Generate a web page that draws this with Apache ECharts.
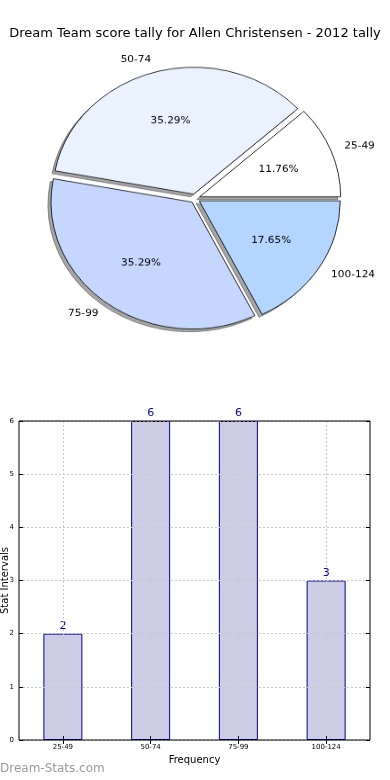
<!DOCTYPE html>
<html>
<head>
<meta charset="utf-8">
<script src="https://cdn.jsdelivr.net/npm/echarts@6/dist/echarts.min.js"></script>
<style>
  html, body { margin: 0; padding: 0; background: #fff; }
  #main { position: absolute; left: 0; top: 0; width: 390px; height: 780px; }
  #pie { position: absolute; left: 0; top: 0; width: 390px; height: 400px; transform: scaleY(0.9); transform-origin: 0 0; }
</style>
</head>
<body>
<div id="main"></div>
<div id="pie"></div>
<script>
const titleText = 'Dream Team score tally for Allen Christensen - 2012 tally';
const categories = ['25-49', '50-74', '75-99', '100-124'];
const counts = [2, 6, 6, 3];
const pieColors = ['#ffffff', '#eaf2ff', '#c5d7ff', '#b3d5ff'];
const yTicks = [0, 1, 2, 3, 4, 5, 6];
const xAxisName = 'Frequency';
const yAxisName = 'Stat Intervals';
const watermark = 'Dream-Stats.com';

const FONT = 'DejaVu Sans';
const total = counts.reduce((a, b) => a + b, 0);

// ---- Bar chart + title (full page) ----
const main = echarts.init(document.getElementById('main'));
const gridLine = { color: '#c8c8c8', type: [2, 2], width: 1 };
main.setOption({
  animation: false,
  textStyle: { fontFamily: FONT },
  title: {
    text: titleText,
    left: 'center',
    top: 22,
    textStyle: { fontSize: 13, fontWeight: 'normal', color: '#000', fontFamily: FONT }
  },
  graphic: [{
    type: 'text', left: 0, top: 763,
    style: { text: watermark, fill: '#9a9a9a', font: '12px "DejaVu Sans"' }
  }],
  grid: {
    left: 19, right: 20, top: 421, bottom: 40,
    containLabel: false, outerBoundsMode: 'none',
    show: true, borderColor: '#000', borderWidth: 1, z: 6
  },
  xAxis: [{
    type: 'category',
    data: categories,
    z: 4,
    name: xAxisName,
    nameLocation: 'middle',
    nameGap: 15,
    nameMoveOverlap: false,
    nameTextStyle: { fontSize: 10, color: '#000', fontFamily: FONT },
    axisLine: { show: false },
    axisTick: { show: true, inside: true, length: 4, alignWithLabel: true, lineStyle: { color: '#000' } },
    axisLabel: { fontSize: 7, color: '#000', margin: 4, fontFamily: FONT },
    splitLine: { show: true, alignWithLabel: true, lineStyle: gridLine }
  }, {
    type: 'category',
    data: categories,
    position: 'top',
    z: 4,
    axisLine: { show: false },
    axisTick: { show: true, inside: true, length: 4, alignWithLabel: true, lineStyle: { color: '#000' } },
    axisLabel: { show: false },
    splitLine: { show: false }
  }],
  yAxis: [{
    type: 'value',
    min: 0, max: 6, interval: 1,
    z: 4,
    name: yAxisName,
    nameLocation: 'middle',
    nameRotate: 90,
    nameGap: 9,
    nameMoveOverlap: false,
    nameTextStyle: { fontSize: 10, color: '#000', fontFamily: FONT },
    axisLine: { show: false },
    axisTick: { show: true, inside: true, length: 4, lineStyle: { color: '#000' } },
    axisLabel: { fontSize: 7, color: '#000', margin: 5, fontFamily: FONT,
      formatter: v => (yTicks.indexOf(v) >= 0 ? String(v) : '') },
    splitLine: { show: true, lineStyle: gridLine }
  }, {
    type: 'value',
    min: 0, max: 6, interval: 1,
    position: 'right',
    z: 4,
    axisLine: { show: false },
    axisTick: { show: true, inside: true, length: 4, lineStyle: { color: '#000' } },
    axisLabel: { show: false },
    splitLine: { show: false }
  }],
  series: [{
    type: 'bar',
    data: counts,
    barWidth: 39,
    itemStyle: { color: '#ccccE5', borderColor: '#00009a', borderWidth: 1 },
    label: { show: true, position: 'top', distance: 2, color: '#00009a', fontSize: 11, fontFamily: FONT }
  }]
});

// ---- Pie chart (elliptical via vertical scaling of its container) ----
const pie = echarts.init(document.getElementById('pie'));
const R = 141;
const CX = 195, CY = 220.5;
const pieData = categories.map((c, i) => ({
  name: c, value: counts[i], selected: true,
  itemStyle: { color: pieColors[i] }
}));
const plainData = categories.map((c, i) => ({ name: c, value: counts[i], selected: true }));
const common = {
  type: 'pie',
  startAngle: 0,
  clockwise: false,
  selectedMode: 'multiple',
  selectedOffset: 5,
  avoidLabelOverlap: false,
  silent: true
};
pie.setOption({
  animation: false,
  series: [Object.assign({}, common, {
    // shadow layer
    center: [CX - 3, CY + 3],
    radius: [0, R],
    data: plainData,
    itemStyle: { color: '#a6a6a6', borderColor: '#6a6a6a', borderWidth: 0.8 },
    label: { show: false },
    labelLine: { show: false }
  }), Object.assign({}, common, {
    center: [CX, CY],
    radius: [0, R],
    data: pieData,
    itemStyle: { borderColor: '#000', borderWidth: 0.8 },
    label: {
      show: true, position: 'outside', color: '#000', fontSize: 10.5, fontFamily: FONT,
      distanceToLabelLine: 0, formatter: '{b}'
    },
    labelLine: { show: false, length: 0.1 * R, length2: 0 }
  }), Object.assign({}, common, {
    center: [CX, CY],
    radius: [0, 2 * (0.6 * R - 3)],
    data: plainData,
    itemStyle: { color: 'rgba(0,0,0,0)', borderWidth: 0 },
    label: {
      show: true, position: 'inside', color: '#000', fontSize: 10.5, fontFamily: FONT,
      formatter: p => (p.value / total * 100).toFixed(2) + '%'
    },
    labelLine: { show: false }
  })]
});
</script>
</body>
</html>
